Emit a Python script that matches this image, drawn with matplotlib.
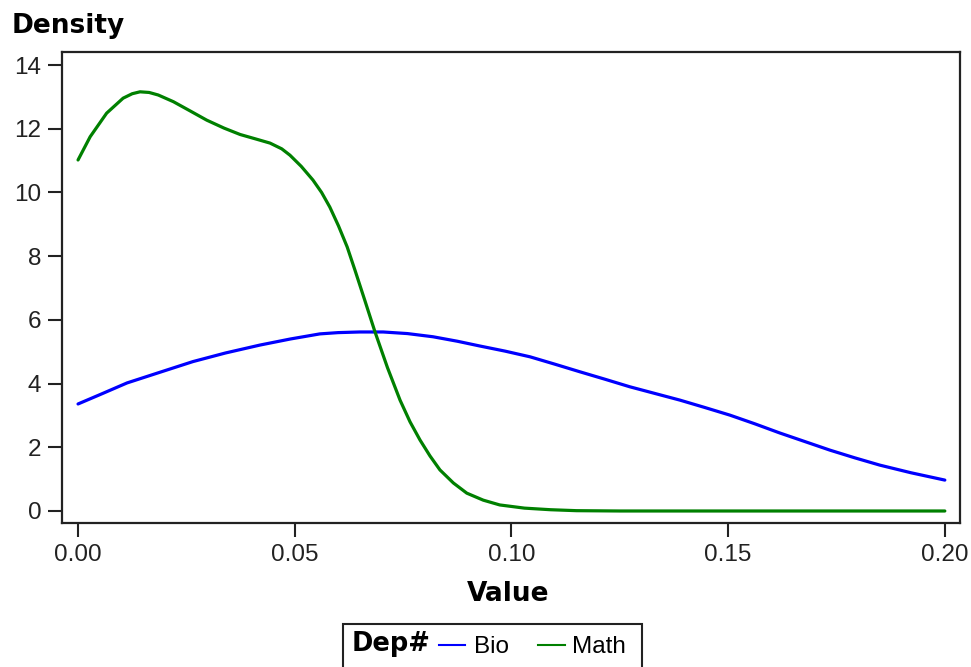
import matplotlib

matplotlib.use("Agg")

import matplotlib.pyplot as plt
from matplotlib.lines import Line2D
from matplotlib.patches import Rectangle

# values
bio_x = [0.0, 0.005, 0.0113, 0.019, 0.0265, 0.034, 0.042, 0.049, 0.0558, 0.060,
         0.065, 0.0704, 0.076, 0.0819, 0.0875, 0.0927, 0.0985, 0.1043, 0.1100,
         0.1158, 0.1215, 0.1273, 0.1331, 0.1389, 0.1446, 0.1504, 0.1561,
         0.1619, 0.1677, 0.1735, 0.1792, 0.1850, 0.1922, 0.2]
bio_y = [3.36, 3.65, 4.02, 4.36, 4.69, 4.96, 5.21, 5.40, 5.56, 5.60,
         5.62, 5.62, 5.57, 5.47, 5.33, 5.18, 5.02, 4.84, 4.61,
         4.37, 4.14, 3.90, 3.69, 3.48, 3.25, 3.01, 2.74,
         2.45, 2.18, 1.91, 1.67, 1.44, 1.20, 0.97]

math_x = [0.0, 0.0028, 0.0066, 0.0104, 0.0125, 0.0143, 0.0164, 0.0185, 0.022,
          0.026, 0.0297, 0.0337, 0.0374, 0.041, 0.0443, 0.047, 0.0489, 0.0515,
          0.0542, 0.0562, 0.0581, 0.0601, 0.0621, 0.0639, 0.0662, 0.0685,
          0.0714, 0.0743, 0.0766, 0.0789, 0.0812, 0.0835, 0.0866, 0.0897,
          0.0935, 0.0973, 0.103, 0.109, 0.115, 0.125, 0.15, 0.175, 0.2]
math_y = [11.02, 11.75, 12.49, 12.96, 13.10, 13.16, 13.14, 13.06, 12.85,
          12.55, 12.27, 12.02, 11.82, 11.68, 11.55, 11.37, 11.17, 10.82,
          10.39, 10.0, 9.54, 8.95, 8.29, 7.56, 6.60, 5.63,
          4.50, 3.48, 2.80, 2.23, 1.73, 1.29, 0.88, 0.56,
          0.34, 0.19, 0.09, 0.04, 0.01, 0.0, 0.0, 0.0, 0.0]

x_ticks = [0.0, 0.05, 0.10, 0.15, 0.20]
x_tick_labels = ["0.00", "0.05", "0.10", "0.15", "0.20"]
y_ticks = [0, 2, 4, 6, 8, 10, 12, 14]

BIO_COLOR = "#0000ff"
MATH_COLOR = "#008000"
AXIS_COLOR = "#222222"
BOLD_FONT = "DejaVu Sans"

plt.rcParams["font.family"] = ["Liberation Sans", "DejaVu Sans"]

W, H = 971, 667
fig = plt.figure(figsize=(W / 100, H / 100), dpi=100)
ax = fig.add_axes([62 / W, 1 - 523 / H, (960 - 62) / W, (523 - 52) / H])

ax.plot(bio_x, bio_y, color=BIO_COLOR, linewidth=2.3, solid_capstyle="round",
        solid_joinstyle="round")
ax.plot(math_x, math_y, color=MATH_COLOR, linewidth=2.3, solid_capstyle="round",
        solid_joinstyle="round")

ax.set_xlim(-0.0037, 0.2035)
ax.set_ylim(-0.377, 14.41)
ax.set_xticks(x_ticks)
ax.set_xticklabels(x_tick_labels)
ax.set_yticks(y_ticks)
ax.tick_params(axis="both", direction="out", length=10, width=1.5,
               color=AXIS_COLOR, labelsize=17.5, pad=5, labelcolor="#222222")
for spine in ax.spines.values():
    spine.set_linewidth(1.6)
    spine.set_color(AXIS_COLOR)

# axis titles
fig.text(12 / W, 1 - 33 / H, "Density", fontsize=19, fontweight="bold",
         family=BOLD_FONT, ha="left", va="baseline")
fig.text(508 / W, 1 - 601 / H, "Value", fontsize=19, fontweight="bold",
         family=BOLD_FONT, ha="center", va="baseline")

# legend box along the bottom edge
fig.patches.append(Rectangle((343 / W, -0.05), (642 - 343) / W, 0.05 + (667 - 624) / H,
                             transform=fig.transFigure, fill=False,
                             edgecolor=AXIS_COLOR, linewidth=1.5))
fig.text(352 / W, 1 - 651 / H, "Dep#", fontsize=18.5, fontweight="bold",
         family=BOLD_FONT, ha="left", va="baseline")
fig.lines.append(Line2D([439 / W, 465 / W], [1 - 645 / H] * 2, transform=fig.transFigure,
                        color=BIO_COLOR, linewidth=1.5))
fig.text(474 / W, 1 - 653 / H, "Bio", fontsize=17.5, ha="left", va="baseline")
fig.lines.append(Line2D([538 / W, 565 / W], [1 - 645 / H] * 2, transform=fig.transFigure,
                        color=MATH_COLOR, linewidth=1.5))
fig.text(572 / W, 1 - 653 / H, "Math", fontsize=17.5, ha="left", va="baseline")

fig.savefig("out.png", dpi=100)
